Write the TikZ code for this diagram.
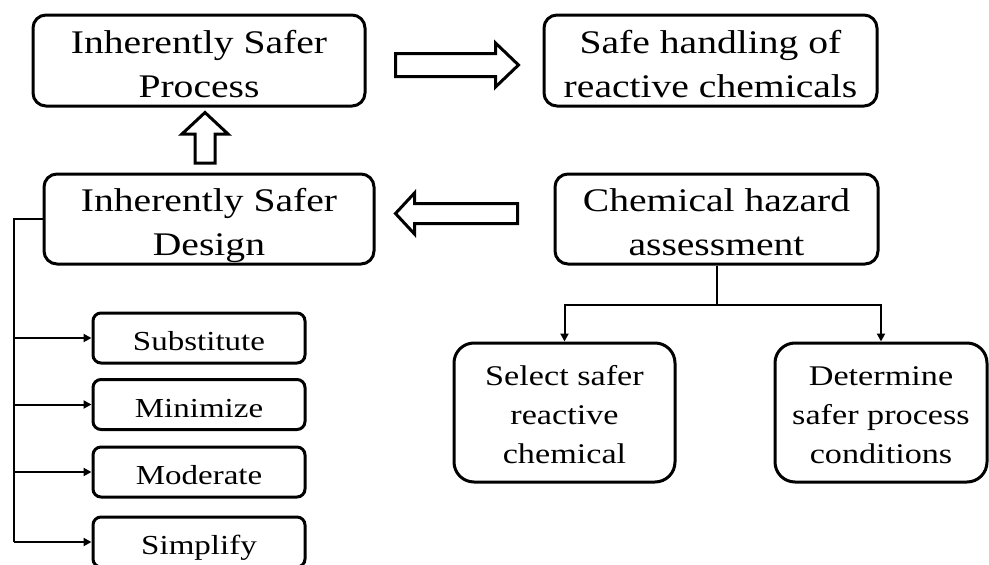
\documentclass[tikz,border=0pt]{standalone}
\usepackage{fontspec}
\setmainfont{Liberation Serif}[FakeStretch=1.2]
\usetikzlibrary{arrows.meta,calc}
\begin{document}
\begin{tikzpicture}[x=1pt,y=-1pt,
  box/.style={draw, line width=3pt, inner sep=0pt, align=center},
  bigbox/.style={box, rounded corners=13pt, font=\fontsize{33}{44}\selectfont},
  midbox/.style={box, rounded corners=20pt, font=\fontsize{28.5}{39}\selectfont,
     minimum height=139pt, text height=120pt, text depth=19pt},
  smallbox/.style={box, rounded corners=8pt, font=\fontsize{27.5}{33}\selectfont,
     minimum width=212pt, minimum height=50pt, text height=37.5pt, text depth=12.5pt},
  hollow/.style={draw, line width=3pt, fill=white, line join=miter},
  conn/.style={draw, line width=2pt},
  connarrow/.style={conn, -{Triangle[length=8pt,width=8pt]}}]
\useasboundingbox (0,0) rectangle (989,565);

% main boxes
\node[bigbox, minimum width=332pt, minimum height=91pt, text height=82pt, text depth=9pt]
  (b1) at (199,60.5) {Inherently Safer\\Process};
\node[bigbox, minimum width=333pt, minimum height=91pt, text height=82pt, text depth=9pt]
  (b2) at (710.5,60.5) {Safe handling of\\reactive chemicals};
\node[bigbox, minimum width=330pt, minimum height=90pt, text height=81pt, text depth=9pt]
  (b3) at (209,219) {Inherently Safer\\Design};
\node[bigbox, minimum width=323pt, minimum height=90pt, text height=81pt, text depth=9pt]
  (b4) at (716.5,219) {Chemical hazard\\assessment};
\node[midbox, minimum width=221pt] (b5) at (564.5,412.5) {Select safer\\reactive\\chemical};
\node[midbox, minimum width=212pt] (b6) at (881,412.5) {Determine\\safer process\\conditions};

% small boxes
\node[smallbox] (s1) at (199,338)   {Substitute};
\node[smallbox] (s2) at (199,404.5) {Minimize};
\node[smallbox] (s3) at (199,472)   {Moderate};
\node[smallbox] (s4) at (199,542)   {Simplify};

% hollow arrows
\coordinate (ra) at ($(b1.east)+(29,4.5)$);
\draw[hollow] (ra) ++(0,-11.5) -- ++(100,0) -- ++(0,-10.5) -- ++(23,22) -- ++(-23,22)
  -- ++(0,-10.5) -- ++(-100,0) -- cycle;
\coordinate (la) at ($(b3.east)+(20,-5.5)$);
\draw[hollow] (la) -- ++(19,-20.5) -- ++(0,10.5) -- ++(103,0) -- ++(0,20) -- ++(-103,0)
  -- ++(0,10.5) -- cycle;
\coordinate (ua) at ($(b1.south)+(6,5)$);
\draw[hollow] (ua) -- ++(23,21.5) -- ++(-13,0) -- ++(0,29) -- ++(-20,0) -- ++(0,-29)
  -- ++(-13,0) -- cycle;

% tree from Inherently Safer Design
\coordinate (tk) at (14,0);
\draw[conn] (b3.west) -- (b3.west -| tk) -- (s4.west -| tk);
\foreach \s in {s1,s2,s3,s4}
  \draw[connarrow] (\s.west -| tk) -- (\s.west);

% tree from Chemical hazard assessment
\coordinate (jn) at ($(b4.south)+(0,39)$);
\draw[conn] (b4.south) -- (jn);
\draw[connarrow] (jn) -| (b5.north);
\draw[connarrow] (jn) -| (b6.north);
\end{tikzpicture}
\end{document}
